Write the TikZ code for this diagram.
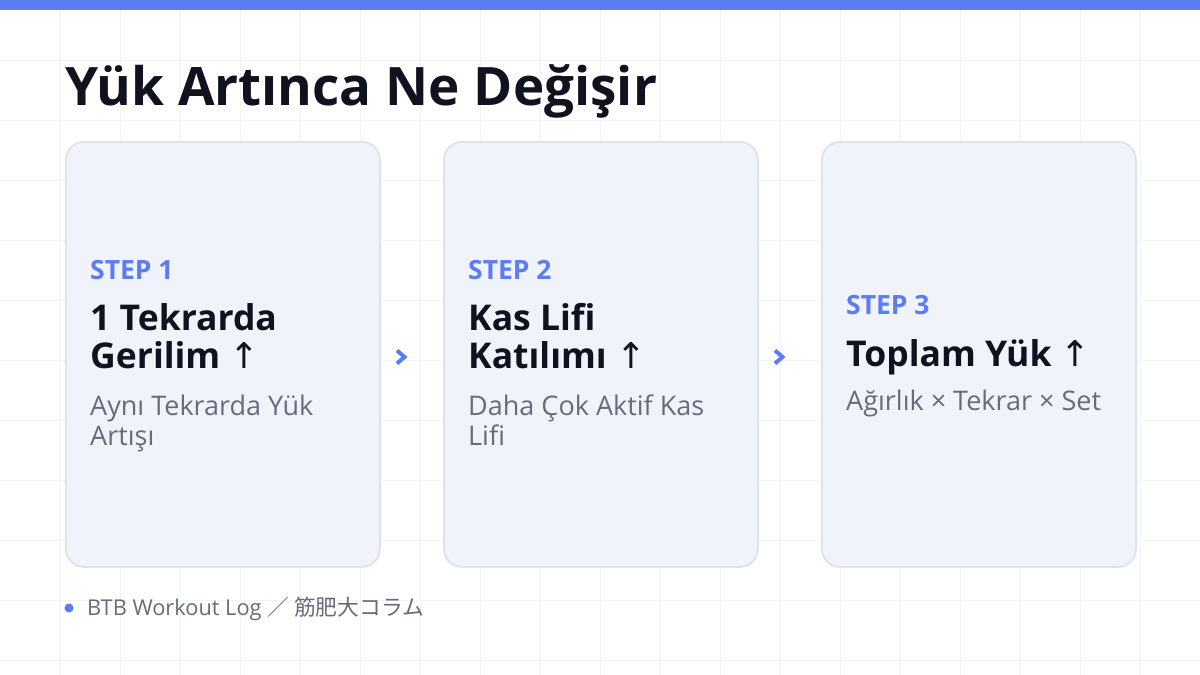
\documentclass[tikz,border=0pt]{standalone}
\usepackage{fontspec}
\setmainfont{Open Sans}
\newfontfamily\jpfont{Noto Sans CJK JP}
\newfontfamily\arrowfont{DejaVu Sans}
\usetikzlibrary{calc}
\definecolor{accent}{HTML}{5B7CF5}
\definecolor{gridc}{HTML}{F2F3F6}
\definecolor{cardfill}{HTML}{F1F3FB}
\definecolor{cardline}{HTML}{DEE2EE}
\definecolor{ink}{HTML}{10131F}
\definecolor{muted}{HTML}{666C7B}
\newcommand{\uparr}{{\mdseries\arrowfont ↑}}
\tikzset{
  gridline/.style={draw=gridc, line width=1},
  card/.style={draw=cardline, fill=cardfill, line width=1.8, rounded corners=18,
    minimum width=314, minimum height=425, inner sep=0, anchor=north west},
  txt/.style={inner sep=0, anchor=base west},
  titletxt/.style={txt, text=ink, font=\fontsize{53}{60}\selectfont\bfseries},
  steplbl/.style={txt, text=accent, font=\fontsize{26.5}{28}\selectfont\bfseries},
  headtxt/.style={txt, text=ink, font=\fontsize{35.5}{38}\selectfont\bfseries},
  subtxt/.style={txt, text=muted, font=\fontsize{27}{28}\selectfont},
  foottxt/.style={txt, text=muted, font=\fontsize{21.8}{24}\selectfont},
  chev/.style={draw=accent, line width=4, miter limit=10}
}
\begin{document}
\begin{tikzpicture}[x=1pt,y=-1pt]
\useasboundingbox (0,0) rectangle (1200,675);
\fill[white] (0,0) rectangle (1200,675);
\foreach \gx in {60,120,...,1140} \draw[gridline] (\gx,0) -- (\gx,675);
\foreach \gy in {60,120,...,660} \draw[gridline] (0,\gy) -- (1200,\gy);
\fill[accent] (0,0) rectangle (1200,10);

\node[titletxt] (title) at (65,105) {Yük Artınca Ne Değişir};

\node[card] (c1) at (65,141) {};
\node[card] (c2) at (443,141) {};
\node[card] (c3) at (821,141) {};

\node[steplbl] (s1) at (90,279) {STEP 1};
\node[headtxt] (h1a) at (90,330) {1 Tekrarda};
\node[headtxt] (h1b) at (90,368) {Gerilim \uparr};
\node[subtxt] (d1a) at (90,415) {Aynı Tekrarda Yük};
\node[subtxt] (d1b) at (90,445) {Artışı};

\node[steplbl] (s2) at (468,279) {STEP 2};
\node[headtxt] (h2a) at (468,330) {Kas Lifi};
\node[headtxt] (h2b) at (468,368) {Katılımı \uparr};
\node[subtxt] (d2a) at (468,415) {Daha Çok Aktif Kas};
\node[subtxt] (d2b) at (468,445) {Lifi};

\node[steplbl] (s3) at (846,314) {STEP 3};
\node[headtxt] (h3a) at (846,366) {Toplam Yük \uparr};
\node[subtxt] (d3a) at (846,410) {Ağırlık × Tekrar × Set};

\coordinate (ar1) at (401,357);
\coordinate (ar2) at (779,357);
\draw[chev] ($(ar1)+(-4,-6.5)$) -- ($(ar1)+(3.5,0)$) -- ($(ar1)+(-4,6.5)$);
\draw[chev] ($(ar2)+(-4,-6.5)$) -- ($(ar2)+(3.5,0)$) -- ($(ar2)+(-4,6.5)$);

\fill[accent] (69,608) circle (4.5);
\node[foottxt] (foot) at (87,615) {BTB Workout Log {\jpfont ／ 筋肥大コラム}};
\end{tikzpicture}
\end{document}
